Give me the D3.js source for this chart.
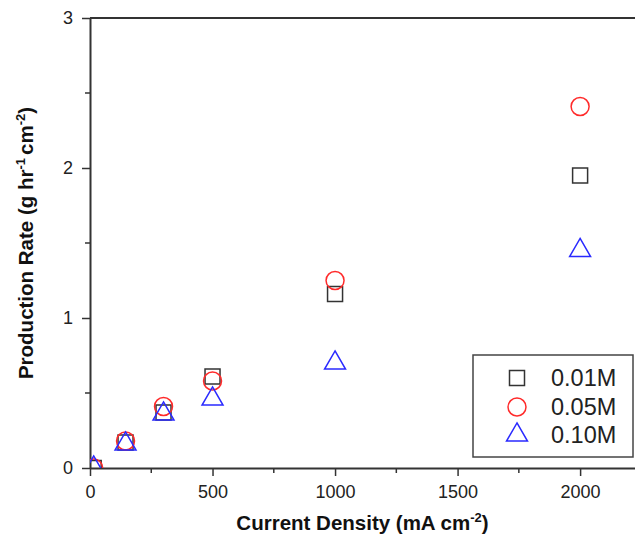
<!DOCTYPE html>
<html>
<head>
<meta charset="utf-8">
<script src="https://cdn.jsdelivr.net/npm/d3@7"></script>
<style>
body { margin: 0; background: #fff; }
svg { display: block; font-family: "Liberation Sans", Arial, sans-serif; }
</style>
</head>
<body>
<script>
// data
var current = [15, 145, 300, 500, 1000, 2000];
var rate001 = [0.0, 0.17, 0.37, 0.61, 1.16, 1.95];
var rate005 = [0.0, 0.18, 0.41, 0.58, 1.25, 2.41];
var rate010 = [0.0, 0.16, 0.36, 0.46, 0.70, 1.45];
var seriesNames = ["0.01M", "0.05M", "0.10M"];
var xTicks = [0, 500, 1000, 1500, 2000];
var yTicks = [0, 1, 2, 3];

var w = 635, h = 534;
var m = {left: 90, top: 18, right: 0, bottom: 66};

var svg = d3.select("body").append("svg")
	.attr("width", w)
	.attr("height", h);

var x = d3.scaleLinear().domain([0, 2224]).range([m.left, w - m.right]);
var y = d3.scaleLinear().domain([0, 3]).range([h - m.bottom, m.top]);

svg.append("clipPath").attr("id", "plotClip")
	.append("rect")
	.attr("x", m.left).attr("y", m.top)
	.attr("width", w - m.left - m.right)
	.attr("height", h - m.top - m.bottom);

// minor ticks
var minorX = d3.range(250, 2224, 500);
var minorY = d3.range(0.5, 3, 1);
svg.append("g").selectAll("line").data(minorX).join("line")
	.attr("x1", d => x(d)).attr("x2", d => x(d))
	.attr("y1", y(0)).attr("y2", y(0) + 5)
	.attr("stroke", "#333").attr("stroke-width", 1.5);
svg.append("g").selectAll("line").data(minorY).join("line")
	.attr("y1", d => y(d)).attr("y2", d => y(d))
	.attr("x1", x(0)).attr("x2", x(0) - 5)
	.attr("stroke", "#333").attr("stroke-width", 1.5);

// axes
var xAxis = svg.append("g")
	.attr("transform", "translate(0," + y(0) + ")")
	.call(d3.axisBottom(x).tickValues(xTicks).tickFormat(d3.format("d"))
		.tickSize(8).tickPadding(9).tickSizeOuter(0));
var yAxis = svg.append("g")
	.attr("transform", "translate(" + x(0) + ",0)")
	.call(d3.axisLeft(y).tickValues(yTicks).tickFormat(d3.format("d"))
		.tickSize(8).tickPadding(9).tickSizeOuter(0));
[xAxis, yAxis].forEach(function(g) {
	g.select(".domain").attr("stroke", "#333").attr("stroke-width", 2);
	g.selectAll(".tick line").attr("stroke", "#333").attr("stroke-width", 1.5);
	g.selectAll(".tick text").attr("fill", "#222").style("font-size", "18px");
});

// top frame line
svg.append("line")
	.attr("x1", x(0)).attr("x2", w)
	.attr("y1", y(3)).attr("y2", y(3))
	.attr("stroke", "#333").attr("stroke-width", 2);

// axis titles
var xt = svg.append("text")
	.attr("x", (x(0) + w) / 2).attr("y", 530)
	.attr("text-anchor", "middle")
	.style("font-size", "20.5px").style("font-weight", "bold").attr("fill", "#111");
xt.append("tspan").text("Current Density (mA cm");
xt.append("tspan").attr("dy", -8).style("font-size", "13px").text("-2");
xt.append("tspan").attr("dy", 8).text(")");

var yt = svg.append("text")
	.attr("transform", "translate(33," + ((y(0) + y(3)) / 2) + ") rotate(-90)")
	.attr("text-anchor", "middle")
	.style("font-size", "20.5px").style("font-weight", "bold").attr("fill", "#111");
yt.append("tspan").text("Production Rate (g hr");
yt.append("tspan").attr("dy", -8).style("font-size", "13px").text("-1");
yt.append("tspan").attr("dy", 8).attr("dx", 3).text("cm");
yt.append("tspan").attr("dy", -8).style("font-size", "13px").text("-2");
yt.append("tspan").attr("dy", 8).text(")");

// markers
var styles = [
	{sym: d3.symbolSquare, size: 225, color: "#333"},
	{sym: d3.symbolCircle, size: 254, color: "#ff2a2a"},
	{sym: d3.symbolTriangle, size: 190, color: "#2a2aff"}
];
var allRates = [rate001, rate005, rate010];
var plot = svg.append("g").attr("clip-path", "url(#plotClip)");
allRates.forEach(function(vals, k) {
	var st = styles[k];
	var pts = current.map((c, i) => ({c: c, v: vals[i]}));
	plot.append("g").selectAll("path").data(pts).join("path")
		.attr("transform", d => "translate(" + x(d.c) + "," + y(d.v) + ")")
		.attr("d", d3.symbol().type(st.sym).size(st.size))
		.attr("fill", "none")
		.attr("stroke", st.color)
		.attr("stroke-width", 1.5);
});

// legend
var lg = svg.append("g");
lg.append("rect")
	.attr("x", 473).attr("y", 355)
	.attr("width", 160).attr("height", 102)
	.attr("fill", "#fff")
	.attr("stroke", "#444").attr("stroke-width", 1.5);
var rowY = [378, 407, 435];
seriesNames.forEach(function(name, k) {
	var st = styles[k];
	lg.append("path")
		.attr("transform", "translate(517," + rowY[k] + ")")
		.attr("d", d3.symbol().type(st.sym).size(st.size))
		.attr("fill", "none").attr("stroke", st.color).attr("stroke-width", 1.5);
	lg.append("text")
		.attr("x", 551).attr("y", rowY[k])
		.attr("dy", "0.36em")
		.style("font-size", "23.5px").attr("fill", "#222")
		.text(name);
});
</script>
</body>
</html>
